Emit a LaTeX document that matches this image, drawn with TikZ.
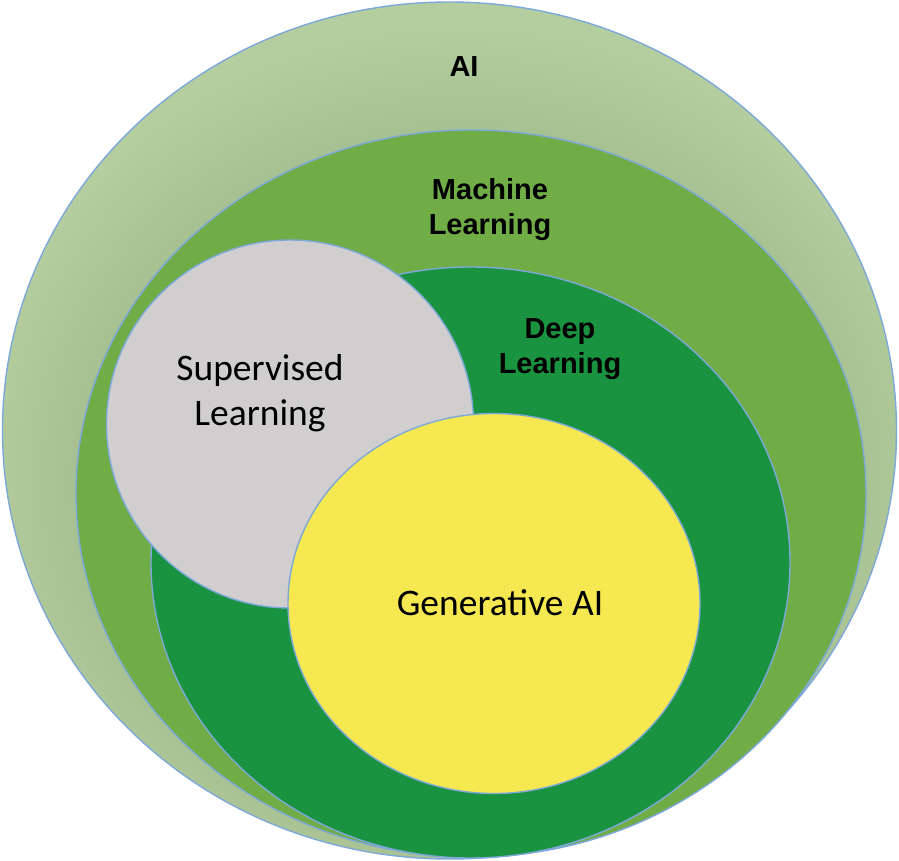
\documentclass[tikz,border=0pt]{standalone}
\usepackage{fontspec}
\setmainfont{Carlito}
\newfontfamily\labelfont{Liberation Sans}
\usepackage{tikz}

\definecolor{aigreen}{RGB}{180,206,160}
\definecolor{mlgreen}{RGB}{112,173,71}
\definecolor{dlgreen}{RGB}{26,147,65}
\definecolor{supgray}{RGB}{208,206,207}
\definecolor{genyellow}{RGB}{246,232,80}
\definecolor{rimblue}{RGB}{125,168,218}

\tikzset{
  area/.style={draw=rimblue, line width=1.4pt},
  boldlabel/.style={font=\labelfont\bfseries\fontsize{29}{35}\selectfont, align=center, inner sep=0pt},
  plainlabel/.style={font=\fontsize{37.5}{45}\selectfont, align=center, inner sep=0pt}
}

\begin{document}
\begin{tikzpicture}[x=1pt, y=-1pt]
    \useasboundingbox (0,0) rectangle (899,861);

    % AI
    \fill[aigreen] (449.5,430.5) ellipse [x radius=447pt, y radius=428.5pt];
    % sombra de Machine Learning
    \begin{scope}
        \clip (449.5,430.5) ellipse [x radius=447pt, y radius=428.5pt];
        \foreach \d in {0,8,...,96}
            \fill[black, opacity=0.0055] (462,484) ellipse [x radius=392pt+\d pt, y radius=360pt+\d pt];
    \end{scope}
    \draw[area] (449.5,430.5) ellipse [x radius=447pt, y radius=428.5pt];

    % Machine Learning
    \filldraw[area, fill=mlgreen] (471,493.5) ellipse [x radius=395pt, y radius=363.5pt];

    % Deep Learning
    \filldraw[area, fill=dlgreen] (470.5,562.5) ellipse [x radius=319.5pt, y radius=295.5pt];

    % Supervised Learning
    \filldraw[area, fill=supgray] (290,424) ellipse [x radius=183.5pt, y radius=184pt];

    % Generative AI
    \filldraw[area, fill=genyellow] (494,603.5) ellipse [x radius=206pt, y radius=190pt];

    % Textos
    \node[boldlabel] (ai) at (464,67) {AI};
    \node[boldlabel] (ml) at (490,210) {Machine\\Learning};
    \node[boldlabel] (dl) at (560,349) {Deep\\Learning};
    \node[plainlabel] (sup) at (260,393) {Supervised\\Learning};
    \node[plainlabel] (gen) at (500,603) {Generative AI};
\end{tikzpicture}
\end{document}
